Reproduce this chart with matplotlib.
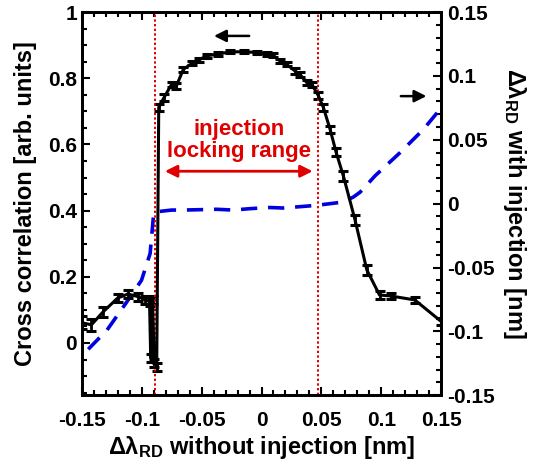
import numpy as np
import matplotlib
matplotlib.use("Agg")
import matplotlib.pyplot as plt
from matplotlib.ticker import MultipleLocator

plt.rcParams['font.family'] = 'Liberation Sans'
plt.rcParams['font.weight'] = 'bold'
plt.rcParams['mathtext.fontset'] = 'custom'
plt.rcParams['mathtext.rm'] = 'Liberation Sans:bold'
plt.rcParams['mathtext.it'] = 'Liberation Sans:bold'
plt.rcParams['mathtext.bf'] = 'Liberation Sans:bold'

# cross correlation (left axis) vs detuning without injection
detune = [-0.150, -0.142, -0.132, -0.120, -0.1115, -0.103, -0.097, -0.0935,
          -0.0925, -0.091, -0.0895, -0.0875, -0.0858, -0.0815, -0.075, -0.071,
          -0.0653, -0.058, -0.052, -0.0458, -0.036, -0.0263, -0.015, -0.004,
          0.0043, 0.0096, 0.0155, 0.021, 0.028, 0.032, 0.0378, 0.042, 0.0475,
          0.0517, 0.0573, 0.0623, 0.0684, 0.078, 0.0879, 0.0985, 0.108, 0.128, 0.150]
xcorr = [0.061, 0.055, 0.095, 0.136, 0.148, 0.140, 0.130, 0.125,
         -0.045, 0.13, -0.06, -0.072, 0.712, 0.741, 0.782, 0.777,
         0.827, 0.845, 0.856, 0.868, 0.873, 0.880, 0.880, 0.878,
         0.873, 0.870, 0.852, 0.842, 0.822, 0.812, 0.787, 0.782, 0.747,
         0.711, 0.645, 0.576, 0.504, 0.373, 0.221, 0.145, 0.142, 0.130, 0.065]
xcorr_err = [0.02, 0.018, 0.015, 0.012, 0.012, 0.012, 0.012, 0.012,
             0.012, 0.012, 0.012, 0.012, 0.01, 0.01, 0.008, 0.008,
             0.008, 0.006, 0.006, 0.006, 0.005, 0.005, 0.005, 0.005,
             0.005, 0.005, 0.006, 0.006, 0.008, 0.008, 0.008, 0.008, 0.01,
             0.01, 0.01, 0.012, 0.015, 0.015, 0.015, 0.012, 0.01, 0.01, 0.01]

# detuning with injection (right axis)
detune_b = [-0.1447, -0.129, -0.114, -0.1002, -0.093, -0.0904, -0.089, -0.075,
            -0.0653, -0.0374, -0.0235, -0.0096, 0.007, 0.018, 0.046, 0.0684,
            0.0767, 0.0823, 0.095, 0.1157, 0.135, 0.150]
shift_b = [-0.114, -0.099, -0.079, -0.060, -0.039, -0.0117, -0.0065, -0.005,
           -0.005, -0.0044, -0.005, -0.0039, -0.003, -0.0034, -0.0013, 0.0013,
           0.0052, 0.009, 0.022, 0.040, 0.058, 0.075]

lock_edges = [-0.089, 0.047]

xticks = [-0.15, -0.1, -0.05, 0, 0.05, 0.1, 0.15]
xlabels = ['-0.15', '-0.1', '-0.05', '0', '0.05', '0.1', '0.15']
lticks = [0, 0.2, 0.4, 0.6, 0.8, 1.0]
llabels = ['0', '0.2', '0.4', '0.6', '0.8', '1']
rticks = [-0.15, -0.1, -0.05, 0, 0.05, 0.1, 0.15]
rlabels = ['-0.15', '-0.1', '-0.05', '0', '0.05', '0.1', '0.15']

fig = plt.figure(figsize=(5.42, 4.65), dpi=100)
ax = fig.add_axes([0.151, 0.150, 0.663, 0.824])
ax2 = ax.twinx()

# blue dashed curve on right axis
ax2.plot(detune_b, shift_b, color='#0000e0', lw=2.6, ls=(0, (4.5, 3)))
ax2.set_ylim(-0.15, 0.15)
ax2.set_yticks(rticks)
ax2.set_yticklabels(rlabels)
ax2.yaxis.set_minor_locator(MultipleLocator(0.01))
ax2.tick_params(axis='y', which='both', direction='in', labelsize=15, width=1.5)
ax2.tick_params(axis='y', which='major', length=6, pad=4)
ax2.tick_params(axis='y', which='minor', length=3.5)
ax2.set_ylabel('Δλ$_{RD}$ with injection [nm]', fontsize=17, fontweight='bold',
               rotation=270, labelpad=24)

# black curve with error bars on left axis, drawn above
ax.set_zorder(ax2.get_zorder() + 1)
ax.patch.set_visible(False)
ax.errorbar(detune, xcorr, yerr=xcorr_err, color='black', lw=2.2,
            elinewidth=2, capsize=3.5, capthick=2.2)
for xe in lock_edges:
    ax.axvline(xe, color='#e00000', ls=(0, (1.2, 1.2)), lw=1.4)

ax.set_xlim(-0.15, 0.15)
ax.set_ylim(-0.158, 1.0)
ax.set_xticks(xticks)
ax.set_xticklabels(xlabels)
ax.set_yticks(lticks)
ax.set_yticklabels(llabels)
ax.xaxis.set_minor_locator(MultipleLocator(0.01))
ax.yaxis.set_minor_locator(MultipleLocator(0.05))
ax.tick_params(axis='both', which='both', direction='in', labelsize=15, width=1.5)
ax.tick_params(axis='x', which='both', top=True)
ax.tick_params(axis='both', which='major', length=6)
ax.tick_params(axis='x', which='major', pad=11)
ax.tick_params(axis='both', which='minor', length=3.5)
for a in (ax, ax2):
    for s in a.spines.values():
        s.set_linewidth(2)

ax.set_xlabel('Δλ$_{RD}$ without injection [nm]', fontsize=17, fontweight='bold', labelpad=3)
ax.set_ylabel('Cross correlation [arb. units]', fontsize=17, fontweight='bold', labelpad=8)

# arrows showing which axis each curve belongs to
ax.annotate('', xy=(-0.042, 0.928), xytext=(-0.008, 0.928),
            arrowprops=dict(arrowstyle='-|>', color='black', lw=1.8, mutation_scale=18))
ax.annotate('', xy=(0.140, 0.746), xytext=(0.114, 0.746),
            arrowprops=dict(arrowstyle='-|>', color='black', lw=1.8, mutation_scale=18))

# locking range annotation
ax.annotate('', xy=(-0.083, 0.519), xytext=(0.045, 0.519),
            arrowprops=dict(arrowstyle='<|-|>', color='#e00000', lw=2, mutation_scale=18))
ax.text(-0.019, 0.612, 'injection\nlocking range', color='#e00000', fontsize=16,
        fontweight='bold', ha='center', va='center', linespacing=1.05)

fig.savefig('out.png', dpi=100)
